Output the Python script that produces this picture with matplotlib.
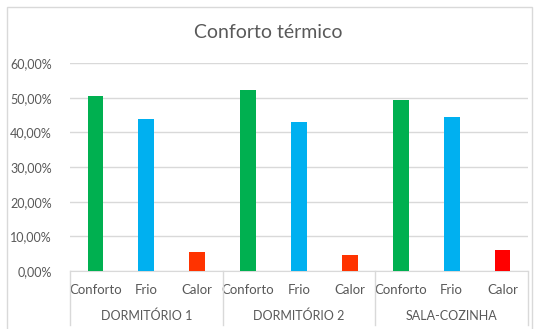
import matplotlib.pyplot as plt
from matplotlib.patches import Rectangle
from matplotlib.lines import Line2D
import numpy as np

plt.rcParams['font.family'] = ['Lato', 'DejaVu Sans']

groups = ['DORMITÓRIO 1', 'DORMITÓRIO 2', 'SALA-COZINHA']
categories = ['Conforto', 'Frio', 'Calor']
values = [50.5, 43.8, 5.5,
          52.2, 43.0, 4.6,
          49.3, 44.4, 6.1]
colors = ['#00B050', '#00B0F0', '#FF3300',
          '#00B050', '#00B0F0', '#FF3300',
          '#00B050', '#00B0F0', '#FF0000']
yticks = [0, 10, 20, 30, 40, 50, 60]

text_col = '#595959'
grid_col = '#D9D9D9'

fig = plt.figure(figsize=(5.42, 3.29), dpi=100)
W, H = 542, 329

# outer chart frame
fig.patches.append(Rectangle((7 / W, -0.05), (532 - 7) / W, 1.05 - 7 / H,
                             transform=fig.transFigure, fill=False,
                             edgecolor=grid_col, linewidth=1))

ax = fig.add_axes([70 / W, 58 / H, (528 - 70) / W, 208 / H])
x = np.arange(len(values))
ax.bar(x, values, width=0.31, color=colors, zorder=3)

ax.set_xlim(-0.5, len(values) - 0.5)
ax.set_ylim(0, 60)
ax.set_yticks(yticks)
ax.set_yticklabels(['%d,00%%' % v for v in yticks], fontsize=9, color=text_col)
ax.yaxis.grid(True, color=grid_col, linewidth=1)
ax.tick_params(axis='y', length=0, pad=13)
for s in ['top', 'right', 'left']:
    ax.spines[s].set_visible(False)
ax.spines['bottom'].set_color(grid_col)

ax.set_xticks(x)
ax.set_xticklabels(categories * len(groups), fontsize=9.5, color=text_col)
ax.tick_params(axis='x', length=0, pad=9)

# group separators and group labels
trans = ax.get_xaxis_transform()
for i in range(len(groups) + 1):
    xs = i * 3 - 0.5
    ax.add_line(Line2D([xs, xs], [0, -54 / 208], transform=trans,
                       color=grid_col, linewidth=1, clip_on=False))
for i, g in enumerate(groups):
    ax.text(i * 3 + 1, -45 / 208, g, transform=trans, ha='center',
            va='center', fontsize=9, color=text_col)

fig.text(268 / W, 1 - 33 / H, 'Conforto térmico', ha='center', va='center',
         fontsize=14, color=text_col)

fig.savefig('out.png', dpi=100)
